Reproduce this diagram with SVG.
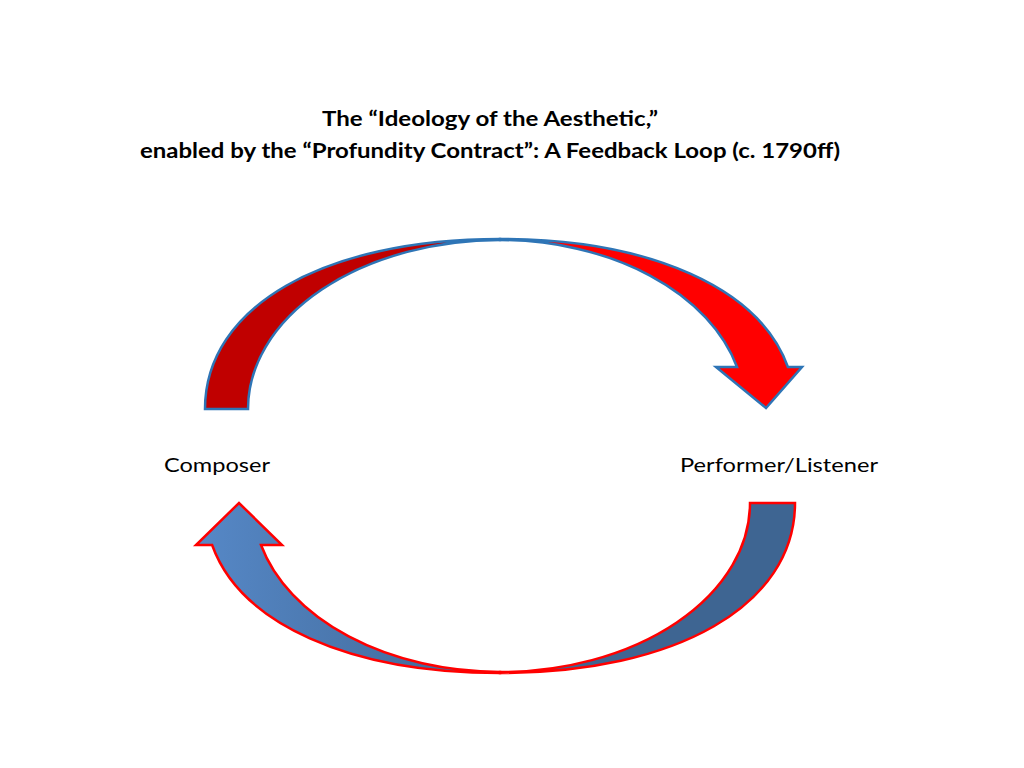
<svg xmlns="http://www.w3.org/2000/svg" width="1024" height="768" viewBox="0 0 1024 768">
<defs>
<linearGradient id="blueGrad" x1="0" y1="0" x2="1" y2="0">
<stop offset="0" stop-color="#5688C7"/>
<stop offset="1" stop-color="#3E6592"/>
</linearGradient>
<style>
.title{font-family:Lato,"Open Sans","Liberation Sans",sans-serif;font-weight:bold;font-size:20px;fill:#000}
.label{font-family:Lato,"Open Sans","Liberation Sans",sans-serif;font-size:20px;fill:#000}
.topArrow{stroke:#2E75B6;stroke-width:2.5;stroke-linejoin:miter}
.botArrow{stroke:#FF0000;stroke-width:2.5;stroke-linejoin:miter}
</style>
</defs>
<rect width="1024" height="768" fill="#FFFFFF"/>
<g id="title">
<text class="title" x="490" y="126" text-anchor="middle" textLength="336" lengthAdjust="spacingAndGlyphs">The “Ideology of the Aesthetic,”</text>
<text class="title" x="490" y="158" text-anchor="middle" textLength="700" lengthAdjust="spacingAndGlyphs">enabled by the “Profundity Contract”: A Feedback Loop (c. 1790ff)</text>
</g>
<g id="composer">
<text class="label" x="164" y="472" textLength="106" lengthAdjust="spacingAndGlyphs">Composer</text>
</g>
<g id="performer-listener">
<text class="label" x="680" y="472" textLength="198" lengthAdjust="spacingAndGlyphs">Performer/Listener</text>
</g>
<g id="connectors">
<g id="top-arrow">
<path class="topArrow" fill="#C00000" d="M205,409 C205,307 323,239 500,239 L500,240 A252,169 0 0 0 248,409 Z"/>
<path class="topArrow" fill="#FF0000" d="M500,239 C651.5,239 759.8,288.8 787.9,367 L802,367 L766,408 L716,367 L737,367 A245,169 0 0 0 500,240 Z"/>
</g>
<g id="bottom-arrow">
<path class="botArrow" fill="#3E6592" d="M795,503 C795,605 677,673 500,673 L500,672 A250,169 0 0 0 750,503 Z"/>
<path class="botArrow" fill="url(#blueGrad)" d="M500,673 C348.5,673 240.2,623.2 212.1,545 L196,545 L239,503 L282,545 L261,545 A247,169 0 0 0 500,672 Z"/>
</g>
</g>
</svg>
